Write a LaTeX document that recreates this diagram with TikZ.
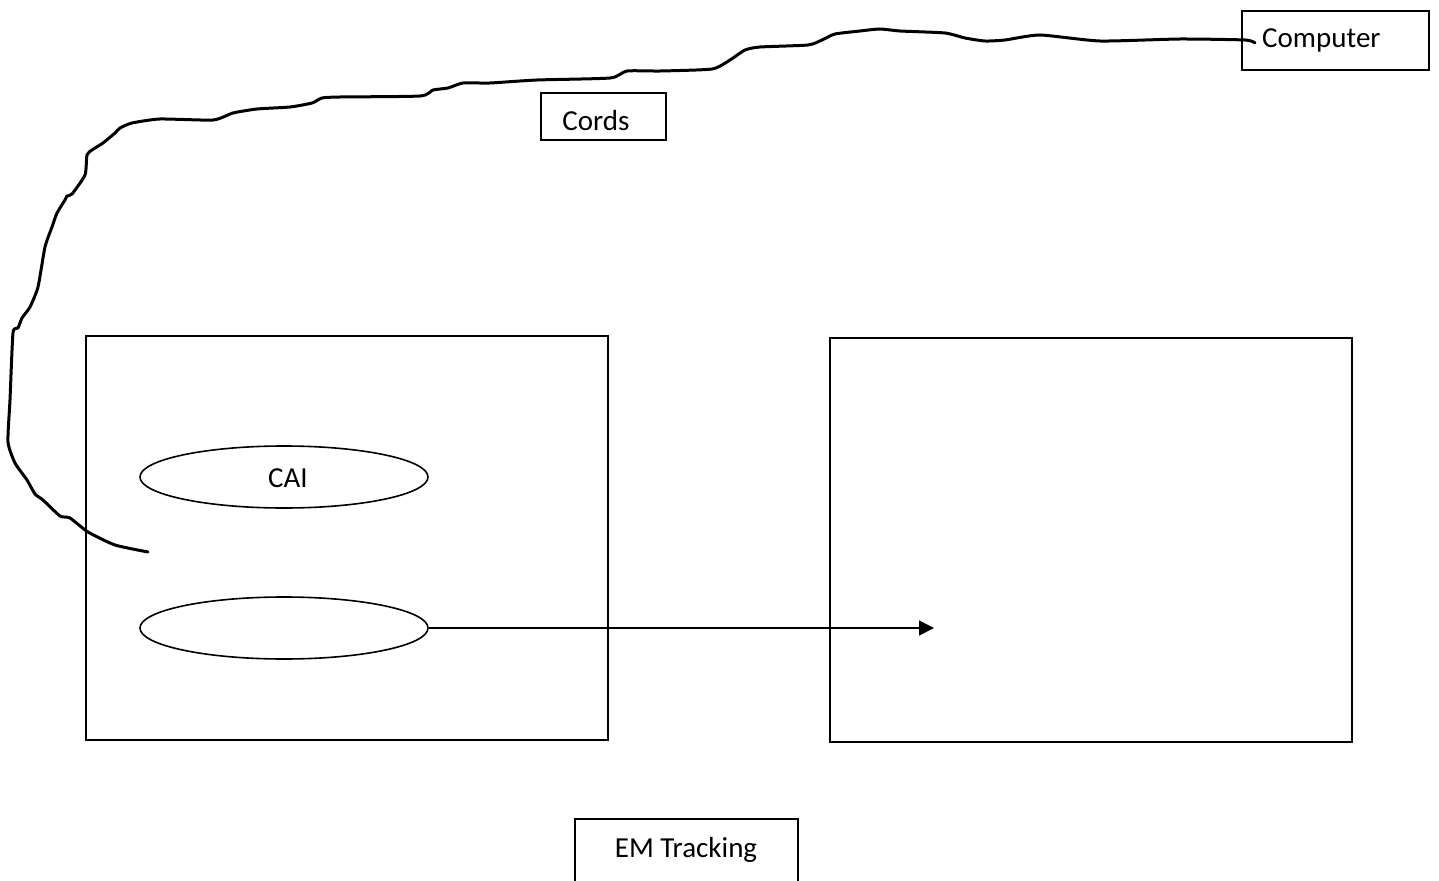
\documentclass[tikz,border=0pt]{standalone}
\usepackage{fontspec}
\setmainfont{Carlito}
\usetikzlibrary{arrows.meta,shapes.geometric}
\begin{document}
\begin{tikzpicture}[x=1pt,y=-1pt,
  box/.style={draw,line width=1.7pt,inner sep=0pt},
  lbl/.style={font=\fontsize{29}{34}\selectfont},
  oval/.style={draw,ellipse,line width=1.6pt,minimum width=288pt,minimum height=62pt,inner sep=0pt},
  cord/.style={line width=3pt,line cap=round,line join=round},
  conn/.style={line width=1.6pt,-{Triangle[length=15pt,width=15pt]}}]
\useasboundingbox (0,0) rectangle (1439,880);
% boxes
\node[box,minimum width=187pt,minimum height=59pt,anchor=north west] (computer) at (1241,10) {};
\node[lbl,anchor=base west,inner sep=0pt] (computertxt) at (1262,48) {Computer};
\node[box,minimum width=125pt,minimum height=47pt,anchor=north west] (cords) at (540,92) {};
\node[lbl,anchor=base,inner sep=0pt] (cordstxt) at (596,130) {Cords};
\node[box,minimum width=522pt,minimum height=404pt,anchor=north west] (left) at (85,335) {};
\node[box,minimum width=522pt,minimum height=404pt,anchor=north west] (right) at (829,337) {};
\node[oval] (cai) at (284,477) {};
\node[lbl,anchor=base,inner sep=0pt] (caitxt) at (288,487) {CAI};
\node[oval] (sensor) at (284,628) {};
\node[box,minimum width=223pt,minimum height=66pt,anchor=north west] (em) at (574,818) {};
\node[lbl,anchor=base,inner sep=0pt] (emtxt) at (686,857) {EM Tracking};
% arrow
\coordinate (arrowend) at (934,628);
\draw[conn] (sensor.east) -- (arrowend);
% cord
\coordinate (cordstart) at (148,552);
\coordinate (cordend) at (1255,43);
\draw[cord] plot[smooth,tension=0.35] coordinates {(148,552) (115,545) (88,532) (70,518) (60,516) (43,500) (35,494) (27,480) (15,463) (8,442) (10,400) (13,333) (18,328) (22,318) (30,307) (38,287) (45,247) (52,227) (57,213) (65,200) (67,196) (72,194) (85,175) (87,155) (92,150) (103,143) (115,133) (120,128) (132,123) (160,119) (213,120) (233,113) (257,109) (290,107) (312,103) (322,98) (340,97) (420,96) (433,90) (448,88) (463,83) (490,83) (537,80) (610,78) (627,71) (660,71) (712,69) (730,60) (745,50) (760,47) (808,45) (822,40) (835,34) (860,31) (880,29) (900,31) (945,33) (965,38) (985,41) (1005,40) (1040,35) (1100,41) (1180,39) (1245,40) (1255,43)};
\end{tikzpicture}
\end{document}
